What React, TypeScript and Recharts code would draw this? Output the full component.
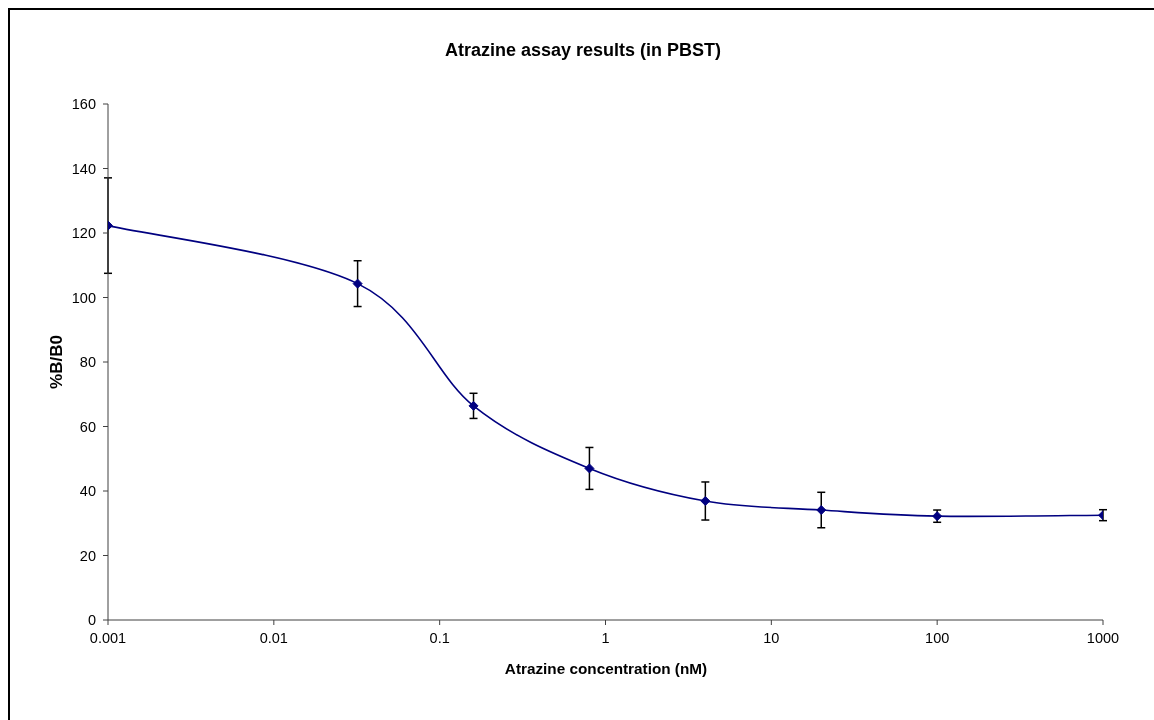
import { ErrorBar, Line, LineChart, XAxis, YAxis } from 'recharts'

// concentrations (nM) and %B/B0 with symmetric error
const conc = [0.001, 0.032, 0.16, 0.8, 4, 20, 100, 1000]
const pctB = [122.3, 104.3, 66.4, 47.0, 36.9, 34.1, 32.2, 32.5]
const errB = [14.8, 7.1, 3.9, 6.5, 5.9, 5.5, 1.9, 1.7]

const xTicks = [0.001, 0.01, 0.1, 1, 10, 100, 1000]
const yTicks = [0, 20, 40, 60, 80, 100, 120, 140, 160]

const data = conc.map((c, i) => ({ x: c, y: pctB[i], err: errB[i] }))

const font = 'Arial, "Liberation Sans", sans-serif'
const navy = '#000080'
const axisStroke = '#404040'
const tick = { fill: '#000', fontSize: 14.5, fontFamily: font }

// Excel-like smoothed line (catmull-rom style bezier)
const smooth = (ctx: any) => {
  let pts: number[][] = []
  return {
    areaStart() {},
    areaEnd() {},
    lineStart() { pts = [] },
    point(x: number, y: number) { pts.push([+x, +y]) },
    lineEnd() {
      const n = pts.length
      if (!n) return
      ctx.moveTo(pts[0][0], pts[0][1])
      for (let i = 0; i < n - 1; i++) {
        const p0 = pts[Math.max(i - 1, 0)]
        const p1 = pts[i]
        const p2 = pts[i + 1]
        const p3 = pts[Math.min(i + 2, n - 1)]
        ctx.bezierCurveTo(
          p1[0] + (p2[0] - p0[0]) / 6, p1[1] + (p2[1] - p0[1]) / 6,
          p2[0] - (p3[0] - p1[0]) / 6, p2[1] - (p3[1] - p1[1]) / 6,
          p2[0], p2[1],
        )
      }
    },
  }
}

function Diamond(props: any) {
  const { cx, cy } = props
  if (cx == null || cy == null) return null
  const r = 4.5
  return <polygon points={`${cx},${cy - r} ${cx + r},${cy} ${cx},${cy + r} ${cx - r},${cy}`} fill={navy} stroke={navy} />
}

export default function App() {
  // fixed so the frame can run off the right/bottom edge without scrollbars
  return (
    <div style={{ position: 'fixed', left: 8, top: 8, width: 1146, height: 712, fontFamily: font, overflow: 'hidden' }}>
      <div style={{ position: 'absolute', left: 0, top: 0, width: 1146, height: 712, borderLeft: '2px solid #000', borderTop: '2px solid #000', boxSizing: 'border-box', pointerEvents: 'none' }} />
      <div style={{ position: 'absolute', left: 575, top: 42, transform: 'translate(-50%, -50%)', fontSize: 18, fontWeight: 'bold', whiteSpace: 'nowrap' }}>
        Atrazine assay results (in PBST)
      </div>
      <div style={{ position: 'absolute', left: 49, top: 354, transform: 'translate(-50%, -50%) rotate(-90deg)', fontSize: 17, fontWeight: 'bold', whiteSpace: 'nowrap' }}>
        %B/B0
      </div>
      <div style={{ position: 'absolute', left: 598, top: 661, transform: 'translate(-50%, -50%)', fontSize: 15.3, fontWeight: 'bold', whiteSpace: 'nowrap' }}>
        Atrazine concentration (nM)
      </div>
      <div style={{ position: 'absolute', left: 0, top: 0 }}>
        <LineChart width={1146} height={712} data={data} margin={{ top: 96, right: 51, left: 40, bottom: 70 }}>
          <XAxis
            dataKey="x"
            type="number"
            scale="log"
            domain={[0.001, 1000]}
            ticks={xTicks}
            allowDataOverflow
            height={30}
            tick={tick}
            tickSize={5}
            tickMargin={8}
            tickLine={{ stroke: axisStroke }}
            axisLine={{ stroke: axisStroke }}
            tickFormatter={(v: number) => String(v)}
          />
          <YAxis
            type="number"
            domain={[0, 160]}
            ticks={yTicks}
            width={60}
            tick={tick}
            tickSize={5}
            tickMargin={7}
            tickLine={{ stroke: axisStroke }}
            axisLine={{ stroke: axisStroke }}
          />
          <Line
            dataKey="y"
            type={smooth as any}
            stroke={navy}
            strokeWidth={1.6}
            dot={<Diamond />}
            activeDot={false}
            isAnimationActive={false}
          >
            <ErrorBar dataKey="err" direction="y" width={4} stroke="#000" strokeWidth={1.5} isAnimationActive={false} />
          </Line>
        </LineChart>
      </div>
    </div>
  )
}
